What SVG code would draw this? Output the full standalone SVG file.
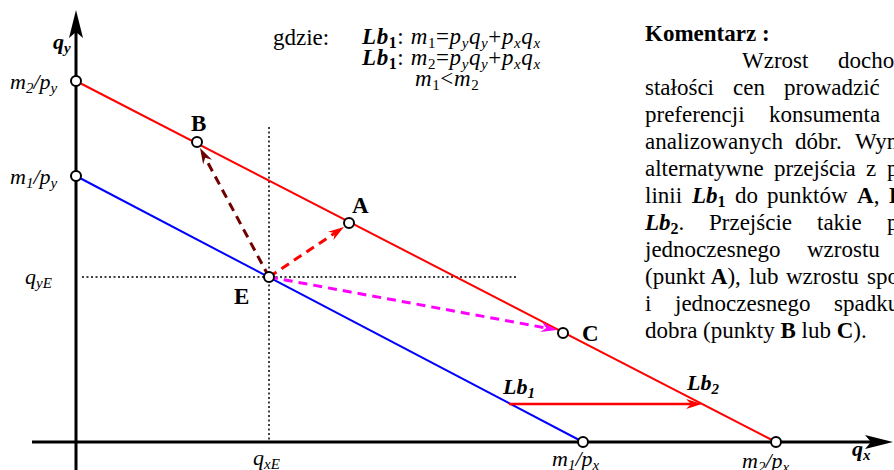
<svg xmlns="http://www.w3.org/2000/svg" width="894" height="470" viewBox="0 0 894 470">
<style>
text { font-family: "Liberation Serif", "Times New Roman", serif; fill: #000; }
.lbl { font-size: 22px; font-style: italic; }
.bi { font-weight: bold; font-style: italic; }
.b { font-weight: bold; }
.pt { font-size: 23px; font-weight: bold; }
.txt { font-size: 23px; }
.frm { font-size: 23px; letter-spacing: 0.6px; }
.axis { stroke: #000; stroke-width: 3; fill: none; }
.dot { stroke: #000; stroke-width: 1.5; stroke-dasharray: 2 2.5; fill: none; }
.circ { fill: #fff; stroke: #000; stroke-width: 2; }
</style>
<defs>
<marker id="axarr" viewBox="0 0 28 14" refX="6" refY="7" markerWidth="28" markerHeight="14" markerUnits="userSpaceOnUse" orient="auto">
<path d="M0,0 L28,7 L0,14 L6,7 z" fill="#000"/>
</marker>
<marker id="arrRed" viewBox="0 0 16 10" refX="5" refY="5" markerWidth="16" markerHeight="10" markerUnits="userSpaceOnUse" orient="auto">
<path d="M0,0 L16,5 L0,10 L5,5 z" fill="#ff0000"/>
</marker>
<marker id="arrDark" viewBox="0 0 16 10" refX="5" refY="5" markerWidth="16" markerHeight="10" markerUnits="userSpaceOnUse" orient="auto">
<path d="M0,0 L16,5 L0,10 L5,5 z" fill="#700000"/>
</marker>
<marker id="arrMag" viewBox="0 0 16 10" refX="5" refY="5" markerWidth="16" markerHeight="10" markerUnits="userSpaceOnUse" orient="auto">
<path d="M0,0 L16,5 L0,10 L5,5 z" fill="#ff00ff"/>
</marker>
</defs>

<g id="axes">
<line class="axis" x1="76" y1="470" x2="76" y2="32" marker-end="url(#axarr)"/>
<line class="axis" x1="32" y1="442" x2="871" y2="442" marker-end="url(#axarr)"/>
</g>

<g id="guides">
<line class="dot" x1="269" y1="127" x2="269" y2="442"/>
<line class="dot" x1="82" y1="277" x2="518" y2="277"/>
</g>

<g id="connectors">
<line id="Lb2" x1="76" y1="81" x2="776" y2="442" stroke="#ff0000" stroke-width="2"/>
<line id="Lb1" x1="76" y1="176" x2="583" y2="442" stroke="#0000ff" stroke-width="2"/>
<line id="EA" x1="269" y1="277" x2="334.8" y2="233.1" stroke="#ff0000" stroke-width="3" stroke-dasharray="9 6" marker-end="url(#arrRed)"/>
<line id="EB" x1="269" y1="277" x2="205.2" y2="157.7" stroke="#700000" stroke-width="3" stroke-dasharray="9 6" marker-end="url(#arrDark)"/>
<line id="EC" x1="269" y1="277" x2="546.2" y2="328" stroke="#ff00ff" stroke-width="3" stroke-dasharray="9 6" marker-end="url(#arrMag)"/>
<line id="shift" x1="509" y1="404" x2="691" y2="404" stroke="#ff0000" stroke-width="2.5" marker-end="url(#arrRed)"/>
</g>

<g id="node-m2py"><circle class="circ" cx="76" cy="81" r="5"/><text class="lbl" x="10" y="89">m<tspan font-size="15" dy="4">2</tspan><tspan dy="-4">/p</tspan><tspan font-size="15" dy="4">y</tspan></text></g>
<g id="node-m1py"><circle class="circ" cx="76" cy="176" r="5"/><text class="lbl" x="10" y="184">m<tspan font-size="15" dy="4">1</tspan><tspan dy="-4">/p</tspan><tspan font-size="15" dy="4">y</tspan></text></g>
<g id="node-B"><circle class="circ" cx="197" cy="142" r="5"/><text class="pt" x="191" y="131">B</text></g>
<g id="node-A"><circle class="circ" cx="349" cy="223" r="5"/><text class="pt" x="352" y="213">A</text></g>
<g id="node-E"><circle class="circ" cx="269" cy="277" r="5"/><text class="pt" x="234" y="304">E</text></g>
<g id="node-C"><circle class="circ" cx="563" cy="333" r="5"/><text class="pt" x="582" y="341">C</text></g>
<g id="node-m1px"><circle class="circ" cx="583" cy="442" r="5"/><text class="lbl" x="552" y="466">m<tspan font-size="15" dy="4">1</tspan><tspan dy="-4">/p</tspan><tspan font-size="15" dy="4">x</tspan></text></g>
<g id="node-m2px"><circle class="circ" cx="776" cy="442" r="5"/><text class="lbl" x="742" y="468">m<tspan font-size="15" dy="4">2</tspan><tspan dy="-4">/p</tspan><tspan font-size="15" dy="4">x</tspan></text></g>

<g id="axis-labels">
<text class="lbl bi" x="53" y="49">q<tspan font-size="15" dy="4">y</tspan></text>
<text class="lbl bi" x="852" y="456">q<tspan font-size="15" dy="4">x</tspan></text>
<text class="lbl" x="25" y="284">q<tspan font-size="15" dy="4">yE</tspan></text>
<text class="lbl" x="253" y="465">q<tspan font-size="15" dy="4">xE</tspan></text>
<text class="lbl bi" x="503" y="394">Lb<tspan font-size="15" dy="4">1</tspan></text>
<text class="lbl bi" x="687" y="390">Lb<tspan font-size="15" dy="4">2</tspan></text>
</g>

<g id="legend">
<text class="txt" x="273" y="45">gdzie:</text>
<text class="frm" x="362" y="44"><tspan class="bi">Lb</tspan><tspan class="b" font-size="16" dy="4">1</tspan><tspan dy="-4">: </tspan><tspan font-style="italic">m</tspan><tspan font-size="15" dy="4">1</tspan><tspan dy="-4">=</tspan><tspan font-style="italic">p</tspan><tspan font-size="15" font-style="italic" dy="4">y</tspan><tspan font-style="italic" dy="-4">q</tspan><tspan font-size="15" font-style="italic" dy="4">y</tspan><tspan dy="-4">+</tspan><tspan font-style="italic">p</tspan><tspan font-size="15" font-style="italic" dy="4">x</tspan><tspan font-style="italic" dy="-4">q</tspan><tspan font-size="15" font-style="italic" dy="4">x</tspan></text>
<text class="frm" x="362" y="65"><tspan class="bi">Lb</tspan><tspan class="b" font-size="16" dy="4">1</tspan><tspan dy="-4">: </tspan><tspan font-style="italic">m</tspan><tspan font-size="15" dy="4">2</tspan><tspan dy="-4">=</tspan><tspan font-style="italic">p</tspan><tspan font-size="15" font-style="italic" dy="4">y</tspan><tspan font-style="italic" dy="-4">q</tspan><tspan font-size="15" font-style="italic" dy="4">y</tspan><tspan dy="-4">+</tspan><tspan font-style="italic">p</tspan><tspan font-size="15" font-style="italic" dy="4">x</tspan><tspan font-style="italic" dy="-4">q</tspan><tspan font-size="15" font-style="italic" dy="4">x</tspan></text>
<text class="frm" x="415" y="86"><tspan font-style="italic">m</tspan><tspan font-size="15" dy="4">1</tspan><tspan dy="-4">&lt;</tspan><tspan font-style="italic">m</tspan><tspan font-size="15" dy="4">2</tspan></text>
</g>

<g id="comment">
<text class="txt b" x="645" y="41">Komentarz :</text>
<text class="txt" y="68"><tspan x="742">Wzrost</tspan><tspan x="838">docho</tspan></text>
<text class="txt" y="95"><tspan x="645">stałości</tspan><tspan x="733">cen</tspan><tspan x="784">prowadzić</tspan></text>
<text class="txt" y="122"><tspan x="645">preferencji</tspan><tspan x="769">konsumenta</tspan></text>
<text class="txt" y="149"><tspan x="645">analizowanych</tspan><tspan x="795">dóbr.</tspan><tspan x="855">Wyn</tspan></text>
<text class="txt" y="176"><tspan x="645">alternatywne</tspan><tspan x="774">przejścia</tspan><tspan x="866">z</tspan><tspan x="887">p</tspan></text>
<text class="txt" y="203"><tspan x="645">linii</tspan><tspan x="692" class="bi">Lb</tspan><tspan class="b" font-size="16" dy="4">1</tspan><tspan x="735" dy="-4">do</tspan><tspan x="767">punktów</tspan><tspan x="857" class="b">A</tspan><tspan>,</tspan><tspan x="889" class="b">B</tspan></text>
<text class="txt" y="230"><tspan x="645" class="bi">Lb</tspan><tspan class="b" font-size="16" dy="4">2</tspan><tspan dy="-4">.</tspan><tspan x="709">Przejście</tspan><tspan x="817">takie</tspan><tspan x="887">p</tspan></text>
<text class="txt" y="257"><tspan x="645">jednoczesnego</tspan><tspan x="807">wzrostu</tspan></text>
<text class="txt" y="284"><tspan x="645">(punkt </tspan><tspan class="b">A</tspan><tspan>),</tspan><tspan x="749">lub</tspan><tspan x="786">wzrostu</tspan><tspan x="867">spo</tspan></text>
<text class="txt" y="311"><tspan x="645">i</tspan><tspan x="675">jednoczesnego</tspan><tspan x="834">spadku</tspan></text>
<text class="txt" y="338"><tspan x="645">dobra (punkty </tspan><tspan class="b">B</tspan><tspan> lub </tspan><tspan class="b">C</tspan><tspan>).</tspan></text>
</g>
</svg>
